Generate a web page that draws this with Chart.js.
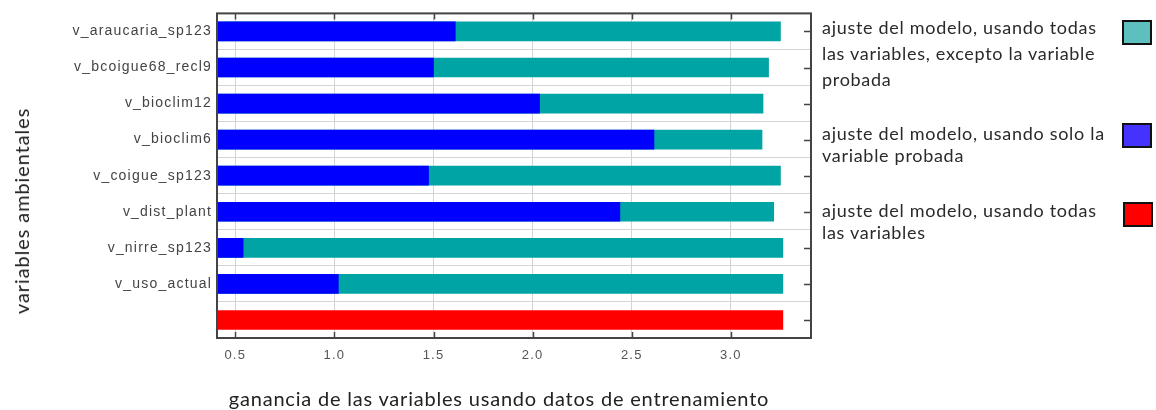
<!DOCTYPE html>
<html>
<head>
<meta charset="utf-8">
<script src="https://cdn.jsdelivr.net/npm/chart.js@4/dist/chart.umd.min.js"></script>
<style>
  html, body { margin: 0; padding: 0; background: #fff; }
  #wrap { position: relative; width: 1156px; height: 410px; }
  #gainChart { position: absolute; left: 0; top: 0; }
  .axis-title { position: absolute; font-family: Lato, "Noto Sans", sans-serif; color: #222; white-space: nowrap; }
  #yTitle { left: 21px; top: 211px; font-size: 20px; letter-spacing: 0.9px; transform: translate(-50%, -50%) rotate(-90deg); }
  #xTitle { left: 499px; top: 398px; font-size: 20px; letter-spacing: 0.8px; transform: translate(-50%, -50%); }
  .legend-text { position: absolute; left: 822px; font-family: Lato, "Noto Sans", sans-serif; font-size: 18px; letter-spacing: 0.7px; color: #2a2a2a; white-space: nowrap; }
  .legend-box { position: absolute; width: 26px; height: 21px; border: 2px solid #111; }
</style>
</head>
<body>
<div id="wrap">
  <canvas id="gainChart" width="1156" height="410"></canvas>
  <div id="yTitle" class="axis-title">variables ambientales</div>
  <div id="xTitle" class="axis-title">ganancia de las variables usando datos de entrenamiento</div>
</div>
<script>
// jackknife de ganancia por variable ambiental
const categories = ['v_araucaria_sp123', 'v_bcoigue68_recl9', 'v_bioclim12', 'v_bioclim6', 'v_coigue_sp123', 'v_dist_plant', 'v_nirre_sp123', 'v_uso_actual', ''];
const withoutVar = [3.25, 3.19, 3.162, 3.157, 3.25, 3.216, 3.262, 3.262, null];
const onlyVar = [1.61, 1.50, 2.035, 2.612, 1.475, 2.44, 0.54, 1.02, null];
const allVars = [null, null, null, null, null, null, null, null, 3.262];
const gainTicks = [0.5, 1.0, 1.5, 2.0, 2.5, 3.0];
const gainMin = 0.408;
const gainMax = 3.404;

const legendLabels = [
  ['ajuste del modelo, usando todas', 'las variables, excepto la variable', 'probada'],
  ['ajuste del modelo, usando solo la', 'variable probada'],
  ['ajuste del modelo, usando todas', 'las variables']
];
const legendColors = ['#5ebfbf', '#4433ff', '#ff0000'];

// legend on the right: text block plus swatch
const legendTops = [14, 122, 199];
const legendLine = [26, 22, 22];
const boxSpots = [[1122, 20], [1122, 123], [1123, 202]];
const wrap = document.getElementById('wrap');
legendLabels.forEach((lines, i) => {
  const t = document.createElement('div');
  t.className = 'legend-text';
  t.style.top = legendTops[i] + 'px';
  t.style.lineHeight = legendLine[i] + 'px';
  t.innerHTML = lines.join('<br>');
  wrap.appendChild(t);
  const b = document.createElement('div');
  b.className = 'legend-box';
  b.style.left = boxSpots[i][0] + 'px';
  b.style.top = boxSpots[i][1] + 'px';
  b.style.background = legendColors[i];
  wrap.appendChild(b);
});

// frame on top/right plus the small inward ticks
const framePlugin = {
  id: 'frame',
  beforeDraw(chart) {
    chart.ctx.letterSpacing = '1.2px';
  },
  afterDraw(chart) {
    const { ctx, chartArea: a, scales } = chart;
    ctx.save();
    ctx.strokeStyle = '#444';
    ctx.lineWidth = 2;
    ctx.strokeRect(a.left, a.top, a.right - a.left, a.bottom - a.top);
    ctx.lineWidth = 1.5;
    ctx.beginPath();
    gainTicks.forEach(v => {
      const x = Math.round(scales.x.getPixelForValue(v)) + 0.5;
      ctx.moveTo(x, a.top); ctx.lineTo(x, a.top + 6);
      ctx.moveTo(x, a.bottom); ctx.lineTo(x, a.bottom - 6);
    });
    categories.forEach((c, i) => {
      const y = Math.round(scales.y.getPixelForValue(i)) + 0.5;
      ctx.moveTo(a.right, y); ctx.lineTo(a.right - 7, y);
    });
    ctx.stroke();
    ctx.restore();
  }
};

new Chart(document.getElementById('gainChart'), {
  type: 'bar',
  data: {
    labels: categories,
    datasets: [
      { label: legendLabels[1].join(' '), data: onlyVar, backgroundColor: '#0000ff', order: 1 },
      { label: legendLabels[0].join(' '), data: withoutVar, backgroundColor: '#00a4a4', order: 2 },
      { label: legendLabels[2].join(' '), data: allVars, backgroundColor: '#ff0000', order: 3 }
    ]
  },
  options: {
    indexAxis: 'y',
    responsive: false,
    animation: false,
    grouped: false,
    barThickness: 19,
    layout: { padding: { top: 13, right: 345, left: 0, bottom: 0 } },
    plugins: { legend: { display: false }, tooltip: { enabled: false } },
    scales: {
      x: {
        type: 'linear',
        min: gainMin,
        max: gainMax,
        afterFit: s => { s.height = 72; },
        afterBuildTicks: s => { s.ticks = gainTicks.map(v => ({ value: v })); },
        grid: { color: '#d4d4d4', lineWidth: 1, drawTicks: false },
        border: { display: false },
        ticks: {
          padding: 10,
          color: '#555',
          font: { family: '"Liberation Sans", Arial, sans-serif', size: 13 },
          callback: v => Number(v).toFixed(1)
        }
      },
      y: {
        afterFit: s => { s.width = 217; },
        grid: { color: '#d4d4d4', lineWidth: 1, drawTicks: false },
        border: { display: false },
        ticks: {
          padding: 5,
          color: '#444',
          font: { family: '"Liberation Sans", Arial, sans-serif', size: 14 }
        }
      }
    }
  },
  plugins: [framePlugin]
});
</script>
</body>
</html>
